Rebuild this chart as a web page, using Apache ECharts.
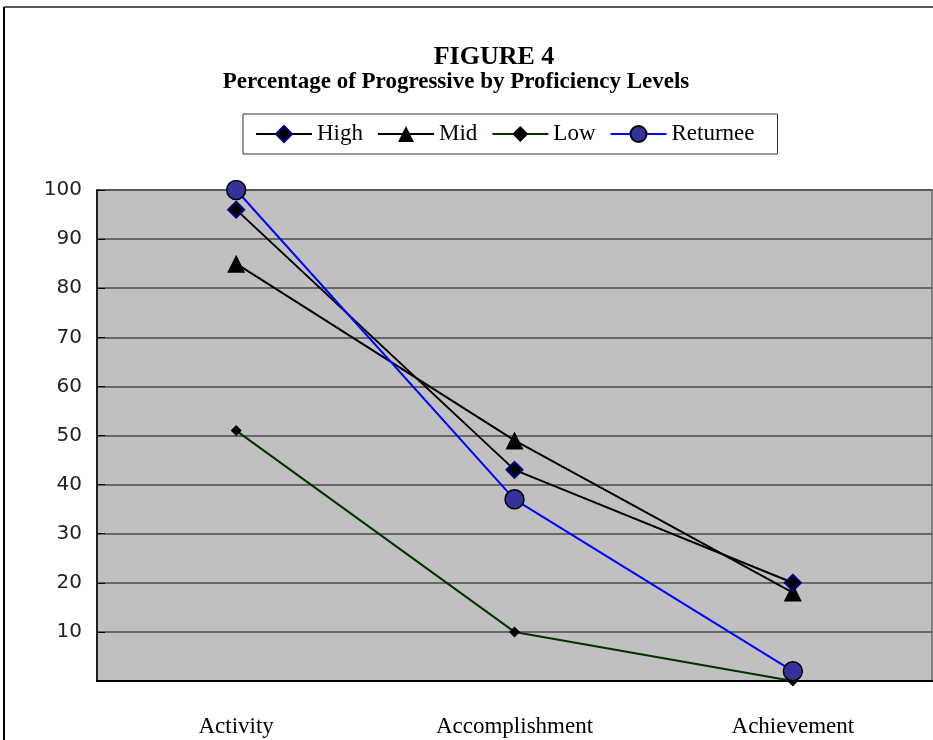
<!DOCTYPE html>
<html>
<head>
<meta charset="utf-8">
<script src="https://cdn.jsdelivr.net/npm/echarts@6/dist/echarts.min.js"></script>
<style>
html,body{margin:0;padding:0;background:#fff;}
#chart{width:933px;height:740px;}
</style>
</head>
<body>
<div id="chart"></div>
<script>
const categories = ['Activity', 'Accomplishment', 'Achievement'];
const highValues = [96, 43, 20];
const midValues = [85, 49, 18];
const lowValues = [51, 10, 0];
const returneeValues = [100, 37, 2];
const yTicks = [0, 10, 20, 30, 40, 50, 60, 70, 80, 90, 100];

const chart = echarts.init(document.getElementById('chart'));
const serif = '"Liberation Serif", "Times New Roman", serif';
const option = {
  backgroundColor: '#ffffff',
  animation: false,
  title: [
    {
      text: 'FIGURE 4',
      left: 494,
      textAlign: 'center',
      top: 44,
      padding: 0,
      textStyle: { fontFamily: serif, fontWeight: 'bold', fontSize: 26, color: '#000' }
    },
    {
      text: 'Percentage of Progressive by Proficiency Levels',
      left: 456,
      textAlign: 'center',
      top: 71,
      padding: 0,
      textStyle: { fontFamily: serif, fontWeight: 'bold', fontSize: 23, color: '#000' }
    }
  ],
  legend: {
    top: 114,
    left: 243,
    padding: [8, 23, 8, 12],
    borderColor: '#333',
    borderWidth: 1,
    itemWidth: 56,
    itemHeight: 20,
    itemGap: 14,
    lineStyle: { width: 2 },
    textStyle: { fontFamily: serif, fontSize: 23, color: '#000', lineHeight: 24 },
    data: ['High', 'Mid', 'Low', 'Returnee']
  },
  grid: {
    left: 97, right: 1, top: 190, bottom: 59,
    show: true,
    backgroundColor: '#C0C0C0',
    borderColor: '#808080',
    borderWidth: 2
  },
  xAxis: {
    type: 'category',
    data: categories,
    boundaryGap: true,
    axisLine: { lineStyle: { color: '#000', width: 2 } },
    axisTick: { inside: true, length: 6, lineStyle: { color: '#000' } },
    axisLabel: { margin: 34, fontFamily: serif, fontSize: 23, color: '#000' }
  },
  yAxis: {
    type: 'value',
    min: yTicks[0],
    max: yTicks[yTicks.length - 1],
    interval: 10,
    axisLine: { show: true, lineStyle: { color: '#000', width: 1.5 } },
    axisTick: { show: true, inside: true, length: 8, lineStyle: { color: '#000' } },
    splitLine: { lineStyle: { color: '#4a4a4a', width: 1.5 } },
    axisLabel: {
      margin: 15,
      fontFamily: '"DejaVu Sans", sans-serif',
      fontSize: 20,
      color: '#222',
      formatter: v => (v === 0 ? '' : String(v))
    }
  },
  graphic: [
    { type: 'line', shape: { x1: 4, y1: 7, x2: 933, y2: 7 }, style: { stroke: '#555', lineWidth: 2 } },
    { type: 'line', shape: { x1: 4, y1: 7, x2: 4, y2: 740 }, style: { stroke: '#000', lineWidth: 2 } }
  ],
  series: [
    {
      name: 'High', type: 'line', data: highValues,
      symbol: 'diamond', symbolSize: 16,
      lineStyle: { color: '#000', width: 2 },
      itemStyle: { color: '#000', borderColor: '#000080', borderWidth: 2 },
      z: 3
    },
    {
      name: 'Mid', type: 'line', data: midValues,
      symbol: 'triangle', symbolSize: 18,
      lineStyle: { color: '#000', width: 2 },
      itemStyle: { color: '#000', borderColor: '#000', borderWidth: 0 },
      z: 2
    },
    {
      name: 'Low', type: 'line', data: lowValues,
      symbol: 'diamond', symbolSize: 11,
      lineStyle: { color: '#003300', width: 2 },
      itemStyle: { color: '#000', borderColor: '#000', borderWidth: 0 },
      z: 1
    },
    {
      name: 'Returnee', type: 'line', data: returneeValues,
      symbol: 'circle', symbolSize: 19,
      lineStyle: { color: '#0000FF', width: 2 },
      itemStyle: { color: '#333399', borderColor: '#000', borderWidth: 1.5 },
      z: 4
    }
  ]
};
chart.setOption(option);
</script>
</body>
</html>
